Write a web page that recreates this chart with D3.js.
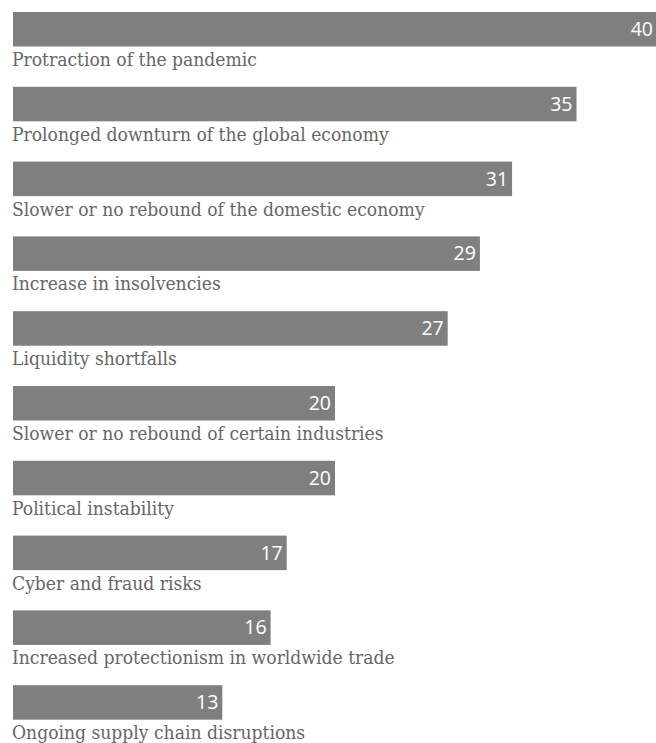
<!DOCTYPE html>
<html><head><meta charset="utf-8">
<script src="https://cdn.jsdelivr.net/npm/d3@7"></script>
<style>html,body{margin:0;padding:0;background:#fff;}</style>
</head><body>
<svg id="chart" width="656" height="743"></svg>
<script>
const categories = [
  "Protraction of the pandemic",
  "Prolonged downturn of the global economy",
  "Slower or no rebound of the domestic economy",
  "Increase in insolvencies",
  "Liquidity shortfalls",
  "Slower or no rebound of certain industries",
  "Political instability",
  "Cyber and fraud risks",
  "Increased protectionism in worldwide trade",
  "Ongoing supply chain disruptions"
];
const values = [40, 35, 31, 29, 27, 20, 20, 17, 16, 13];

const svg = d3.select("#chart");
const x = d3.scaleLinear().domain([0, 40]).range([13, 657]);
const y = d3.scaleBand().domain(categories).range([12, 12 + 74.8 * 10]).paddingInner(0).paddingOuter(0);
const barH = 34.5;

const g = svg.selectAll("g.row").data(categories).join("g").attr("class", "row")
  .attr("transform", d => `translate(0,${y(d)})`);

g.append("rect")
  .attr("x", x(0))
  .attr("y", 0)
  .attr("width", (d, i) => x(values[i]) - x(0))
  .attr("height", barH)
  .attr("fill", "#7f7f80");

g.append("text")
  .attr("x", (d, i) => x(values[i]) - 4)
  .attr("y", 24)
  .attr("text-anchor", "end")
  .attr("fill", "#ffffff")
  .style("font-family", "'Open Sans', sans-serif")
  .style("font-size", "19.5px")
  .text((d, i) => values[i]);

g.append("text")
  .attr("x", 12)
  .attr("y", 54)
  .attr("fill", "#666666")
  .style("font-family", "'DejaVu Serif Condensed', 'DejaVu Serif', serif")
  .style("font-stretch", "condensed")
  .style("font-size", "19.1px")
  .text(d => d);
</script>
</body></html>
